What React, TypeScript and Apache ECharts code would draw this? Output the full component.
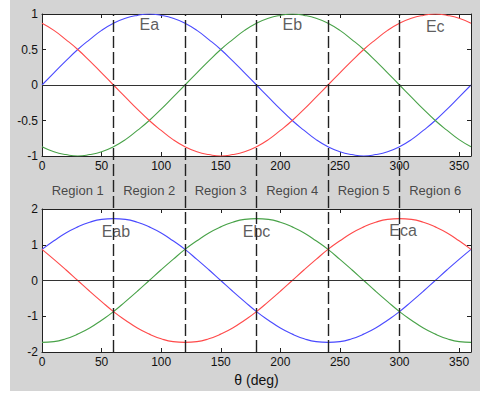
import React, { useEffect, useRef } from "react";
import * as echarts from "echarts";

const thetas = [0,10,20,30,40,50,60,70,80,90,100,110,120,130,140,150,160,170,180,190,200,210,220,230,240,250,260,270,280,290,300,310,320,330,340,350,360];

const ea = [0,0.17,0.34,0.5,0.64,0.77,0.87,0.94,0.98,1,0.98,0.94,0.87,0.77,0.64,0.5,0.34,0.17,0,-0.17,-0.34,-0.5,-0.64,-0.77,-0.87,-0.94,-0.98,-1,-0.98,-0.94,-0.87,-0.77,-0.64,-0.5,-0.34,-0.17,0];
const eb = [-0.87,-0.94,-0.98,-1,-0.98,-0.94,-0.87,-0.77,-0.64,-0.5,-0.34,-0.17,0,0.17,0.34,0.5,0.64,0.77,0.87,0.94,0.98,1,0.98,0.94,0.87,0.77,0.64,0.5,0.34,0.17,0,-0.17,-0.34,-0.5,-0.64,-0.77,-0.87];
const ec = [0.87,0.77,0.64,0.5,0.34,0.17,0,-0.17,-0.34,-0.5,-0.64,-0.77,-0.87,-0.94,-0.98,-1,-0.98,-0.94,-0.87,-0.77,-0.64,-0.5,-0.34,-0.17,0,0.17,0.34,0.5,0.64,0.77,0.87,0.94,0.98,1,0.98,0.94,0.87];

const eab = [0.87,1.11,1.33,1.5,1.63,1.71,1.73,1.71,1.63,1.5,1.33,1.11,0.87,0.59,0.3,0,-0.3,-0.59,-0.87,-1.11,-1.33,-1.5,-1.63,-1.71,-1.73,-1.71,-1.63,-1.5,-1.33,-1.11,-0.87,-0.59,-0.3,0,0.3,0.59,0.87];
const ebc = [-1.73,-1.71,-1.63,-1.5,-1.33,-1.11,-0.87,-0.59,-0.3,0,0.3,0.59,0.87,1.11,1.33,1.5,1.63,1.71,1.73,1.71,1.63,1.5,1.33,1.11,0.87,0.59,0.3,0,-0.3,-0.59,-0.87,-1.11,-1.33,-1.5,-1.63,-1.71,-1.73];
const eca = [0.87,0.59,0.3,0,-0.3,-0.59,-0.87,-1.11,-1.33,-1.5,-1.63,-1.71,-1.73,-1.71,-1.63,-1.5,-1.33,-1.11,-0.87,-0.59,-0.3,0,0.3,0.59,0.87,1.11,1.33,1.5,1.63,1.71,1.73,1.71,1.63,1.5,1.33,1.11,0.87];

const regionBoundaries = [60, 120, 180, 240, 300];
const regionNames = ["Region 1", "Region 2", "Region 3", "Region 4", "Region 5", "Region 6"];
const regionCenters = [30, 90, 150, 210, 270, 330];
const regionLabelY = 0.478;

const phaseNames = ["Ea", "Eb", "Ec"];
const phaseLabelPos = [[90, 0.85], [210, 0.85], [330, 0.83]];
const lineNames = ["Eab", "Ebc", "Eca"];
const lineLabelPos = [[62, 1.38], [180, 1.38], [303, 1.4]];

const BLUE = "#4a4aff";
const GREEN = "#48a248";
const RED = "#ff4a4a";
const FONT = "Liberation Sans, Arial, sans-serif";

function pairs(vals: number[]) {
  return thetas.map((t, i) => [t, vals[i]]);
}

export default function App() {
  const ref = useRef<HTMLDivElement>(null);
  useEffect(() => {
    if (!ref.current) return;
    const chart = echarts.init(ref.current, null, { renderer: "svg" });
    const axisLine = { show: true, onZero: false, lineStyle: { color: "#222", width: 1 } };
    const tick = { show: true, inside: true, length: 4, lineStyle: { color: "#222" } };
    const xLabel = { color: "#111", fontSize: 12, fontFamily: FONT, margin: 4 };
    const yLabel = { color: "#111", fontSize: 12, fontFamily: FONT, margin: 4 };
    const xBase = { type: "value", min: 0, max: 360, interval: 50, splitLine: { show: false }, axisLine, axisTick: tick };
    const lineSeries = (name: string, vals: number[], color: string, xi: number, yi: number, extra: any = {}) => ({
      type: "line",
      name,
      data: pairs(vals),
      xAxisIndex: xi,
      yAxisIndex: yi,
      smooth: true,
      showSymbol: false,
      symbol: "none",
      lineStyle: { color, width: 1.1 },
      itemStyle: { color },
      z: 3,
      ...extra,
    });
    const zeroLine = {
      markLine: {
        silent: true,
        symbol: "none",
        label: { show: false },
        lineStyle: { color: "#333", width: 1, type: "solid" },
        data: [{ yAxis: 0 }],
      },
    };
    const textSeries = (names: string[], pos: number[][], xi: number, yi: number) => ({
      type: "scatter",
      xAxisIndex: xi,
      yAxisIndex: yi,
      symbolSize: 0,
      silent: true,
      z: 5,
      data: pos.map((p, i) => ({ value: p, name: names[i] })),
      label: {
        show: true,
        position: "inside",
        formatter: (p: any) => p.name,
        color: "#333",
        fontSize: 16,
        fontFamily: FONT,
      },
    });
    chart.setOption({
      animation: false,
      backgroundColor: "transparent",
      grid: [
        { left: 42, top: 14, width: 429, height: 142, show: true, backgroundColor: "#fff", borderWidth: 0 },
        { left: 42, top: 209, width: 429, height: 143, show: true, backgroundColor: "#fff", borderWidth: 0 },
        { left: 42, top: 14, width: 429, height: 338, show: false },
      ],
      xAxis: [
        { ...xBase, gridIndex: 0, position: "bottom", axisLabel: xLabel },
        { ...xBase, gridIndex: 0, position: "top", axisLabel: { show: false } },
        {
          ...xBase, gridIndex: 1, position: "bottom", axisLabel: xLabel,
          name: "θ (deg)", nameLocation: "middle", nameGap: 21,
          nameTextStyle: { color: "#111", fontSize: 14, fontFamily: FONT },
        },
        { ...xBase, gridIndex: 1, position: "top", axisLabel: { show: false } },
        { type: "value", gridIndex: 2, min: 0, max: 360, show: false },
      ],
      yAxis: [
        { type: "value", gridIndex: 0, min: -1, max: 1, interval: 0.5, position: "left", splitLine: { show: false }, axisLine, axisTick: tick, axisLabel: yLabel },
        { type: "value", gridIndex: 0, min: -1, max: 1, interval: 0.5, position: "right", splitLine: { show: false }, axisLine, axisTick: tick, axisLabel: { show: false } },
        { type: "value", gridIndex: 1, min: -2, max: 2, interval: 1, position: "left", splitLine: { show: false }, axisLine, axisTick: tick, axisLabel: yLabel },
        { type: "value", gridIndex: 1, min: -2, max: 2, interval: 1, position: "right", splitLine: { show: false }, axisLine, axisTick: tick, axisLabel: { show: false } },
        { type: "value", gridIndex: 2, min: 0, max: 1, show: false },
      ],
      series: [
        lineSeries("Ea", ea, BLUE, 0, 0, zeroLine),
        lineSeries("Eb", eb, GREEN, 0, 0),
        lineSeries("Ec", ec, RED, 0, 0),
        lineSeries("Eab", eab, BLUE, 2, 2, zeroLine),
        lineSeries("Ebc", ebc, GREEN, 2, 2),
        lineSeries("Eca", eca, RED, 2, 2),
        textSeries(phaseNames, phaseLabelPos, 0, 0),
        textSeries(lineNames, lineLabelPos, 2, 2),
        {
          type: "scatter",
          xAxisIndex: 4,
          yAxisIndex: 4,
          symbolSize: 0,
          silent: true,
          z: 6,
          data: regionCenters.map((c, i) => ({ value: [c, regionLabelY], name: regionNames[i] })),
          label: {
            show: true,
            position: "inside",
            formatter: (p: any) => p.name,
            color: "#222",
            fontSize: 13,
            fontFamily: FONT,
          },
          markLine: {
            silent: true,
            symbol: "none",
            label: { show: false },
            lineStyle: { color: "#222", width: 1.4, type: [12, 4] },
            data: regionBoundaries.map((b) => ({ xAxis: b })),
          },
        },
      ],
    });
    return () => chart.dispose();
  }, []);
  return (
    <div style={{ position: "fixed", left: 0, top: 0, width: 480, height: 394, background: "#fff" }}>
      <div style={{ position: "absolute", left: 10, top: 0, width: 470, height: 391, background: "#d4d4d4" }} />
      <div ref={ref} style={{ position: "absolute", left: 0, top: 0, width: 480, height: 394 }} />
    </div>
  );
}
